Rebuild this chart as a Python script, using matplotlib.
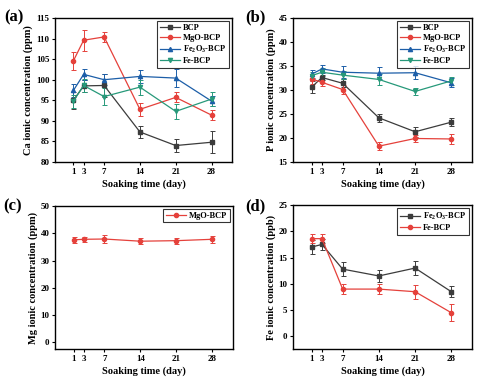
import matplotlib
matplotlib.use("Agg")
import matplotlib.pyplot as plt
from matplotlib.lines import Line2D

plt.rcParams['font.family'] = ['Liberation Serif', 'DejaVu Serif']
plt.rcParams['font.weight'] = 'bold'
plt.rcParams['mathtext.fontset'] = 'custom'
plt.rcParams['mathtext.rm'] = 'Liberation Serif:bold'
plt.rcParams['mathtext.bf'] = 'Liberation Serif:bold'
plt.rcParams['mathtext.default'] = 'bf'

days = [1, 3, 7, 14, 21, 28]
xticks = [1, 3, 7, 14, 21, 28]

# (a) Ca
ca_bcp = [95.0, 98.5, 98.6, 87.3, 84.0, 84.8]
ca_bcp_err = [2.0, 1.5, 2.8, 1.5, 1.5, 2.7]
ca_mgo = [104.6, 109.6, 110.4, 92.8, 95.7, 91.4]
ca_mgo_err = [2.2, 2.6, 1.2, 1.5, 1.2, 1.2]
ca_fe2o3 = [97.4, 101.3, 100.0, 100.8, 100.4, 94.8]
ca_fe2o3_err = [1.5, 1.3, 1.4, 1.5, 2.2, 1.2]
ca_fe = [94.8, 98.6, 95.9, 98.2, 92.3, 95.3]
ca_fe_err = [1.6, 1.5, 2.1, 1.8, 1.8, 1.7]

# (b) P
p_bcp = [30.6, 32.6, 31.4, 24.2, 21.3, 23.3]
p_bcp_err = [1.3, 0.6, 0.8, 0.8, 1.0, 0.8]
p_mgo = [32.3, 31.6, 30.1, 18.3, 19.9, 19.8]
p_mgo_err = [1.0, 0.8, 0.9, 0.8, 0.8, 1.1]
p_fe2o3 = [33.3, 34.4, 33.7, 33.5, 33.6, 31.5]
p_fe2o3_err = [0.8, 0.8, 1.3, 1.2, 1.4, 0.9]
p_fe = [33.0, 33.7, 33.1, 32.2, 29.7, 31.9]
p_fe_err = [0.8, 0.8, 0.8, 1.2, 0.8, 0.9]

# (c) Mg
mg_mgo = [37.6, 37.8, 37.9, 37.1, 37.3, 37.8]
mg_mgo_err = [1.0, 1.0, 1.4, 1.1, 1.1, 1.3]

# (d) Fe
fe_fe2o3 = [17.0, 17.5, 12.8, 11.5, 13.0, 8.5]
fe_fe2o3_err = [1.3, 1.0, 1.4, 1.2, 1.3, 1.1]
fe_fe = [18.6, 18.6, 9.0, 9.0, 8.5, 4.5]
fe_fe_err = [0.9, 0.9, 1.0, 1.0, 1.3, 1.6]

GRAY = '#3c3c3c'
RED = '#e5413b'
BLUE = '#1c5ea8'
GREEN = '#27997a'

W, H = 496, 385
fig = plt.figure(figsize=(W / 100, H / 100), dpi=100)

def add_ax(l, r, t, b):
    return fig.add_axes([l / W, 1 - b / H, (r - l) / W, (b - t) / H])

def style(ax, ylim, yticks, ylabel):
    ax.set_xlim(-2.6, 32)
    ax.set_ylim(*ylim)
    ax.set_xticks(xticks)
    ax.set_yticks(yticks)
    ax.tick_params(labelsize=6.5, length=2.5, width=0.8, pad=1.5)
    for lab in ax.get_xticklabels() + ax.get_yticklabels():
        lab.set_fontweight('bold')
    for s in ax.spines.values():
        s.set_linewidth(1.0)
    ax.set_xlabel('Soaking time (day)', fontsize=7.5, fontweight='bold', labelpad=3)
    ax.set_ylabel(ylabel, fontsize=7.5, fontweight='bold', labelpad=2)

def series(ax, y, e, color, marker, label):
    ax.errorbar(days, y, yerr=e, color=color, marker=marker, markersize=3.0,
                linewidth=0.9, elinewidth=0.7, capsize=1.8, capthick=0.7)
    return Line2D([], [], color=color, marker=marker, markersize=3.0,
                  linewidth=0.9, label=label)

def legend(ax, handles):
    lg = ax.legend(handles=handles, loc='upper right', fontsize=6, frameon=True,
                   fancybox=False, edgecolor='black', handlelength=2.4,
                   handletextpad=0.4, borderpad=0.3, labelspacing=0.25,
                   borderaxespad=0.4)
    lg.get_frame().set_linewidth(0.8)
    for t in lg.get_texts():
        t.set_fontweight('bold')

# (a)
ax = add_ax(55, 232, 18, 162)
h = [series(ax, ca_bcp, ca_bcp_err, GRAY, 's', 'BCP'),
     series(ax, ca_mgo, ca_mgo_err, RED, 'o', 'MgO-BCP'),
     series(ax, ca_fe2o3, ca_fe2o3_err, BLUE, '^', r'Fe$_2$O$_3$-BCP'),
     series(ax, ca_fe, ca_fe_err, GREEN, 'v', 'Fe-BCP')]
style(ax, (80, 115), [80, 85, 90, 95, 100, 105, 110, 115], 'Ca ionic concentration (ppm)')
legend(ax, h)
fig.text(4 / W, 1 - 17 / H, '(a)', fontsize=12, fontweight='bold', va='center')

# (b)
ax = add_ax(293, 472, 18, 162)
h = [series(ax, p_bcp, p_bcp_err, GRAY, 's', 'BCP'),
     series(ax, p_mgo, p_mgo_err, RED, 'o', 'MgO-BCP'),
     series(ax, p_fe2o3, p_fe2o3_err, BLUE, '^', r'Fe$_2$O$_3$-BCP'),
     series(ax, p_fe, p_fe_err, GREEN, 'v', 'Fe-BCP')]
style(ax, (15, 45), [15, 20, 25, 30, 35, 40, 45], 'P ionic concentration (ppm)')
legend(ax, h)
fig.text(245 / W, 1 - 17 / H, '(b)', fontsize=12, fontweight='bold', va='center')

# (c)
ax = add_ax(55, 233, 206, 349)
h = [series(ax, mg_mgo, mg_mgo_err, RED, 'o', 'MgO-BCP')]
style(ax, (-2.4, 50), [0, 10, 20, 30, 40, 50], 'Mg ionic concentration (ppm)')
legend(ax, h)
fig.text(3 / W, 1 - 206 / H, '(c)', fontsize=12, fontweight='bold', va='center')

# (d)
ax = add_ax(293, 472, 205, 349)
h = [series(ax, fe_fe2o3, fe_fe2o3_err, GRAY, 's', r'Fe$_2$O$_3$-BCP'),
     series(ax, fe_fe, fe_fe_err, RED, 'o', 'Fe-BCP')]
style(ax, (-2.4, 25), [0, 5, 10, 15, 20, 25], 'Fe ionic concentration (ppb)')
legend(ax, h)
fig.text(245 / W, 1 - 206 / H, '(d)', fontsize=12, fontweight='bold', va='center')

fig.savefig('out.png', dpi=100)
